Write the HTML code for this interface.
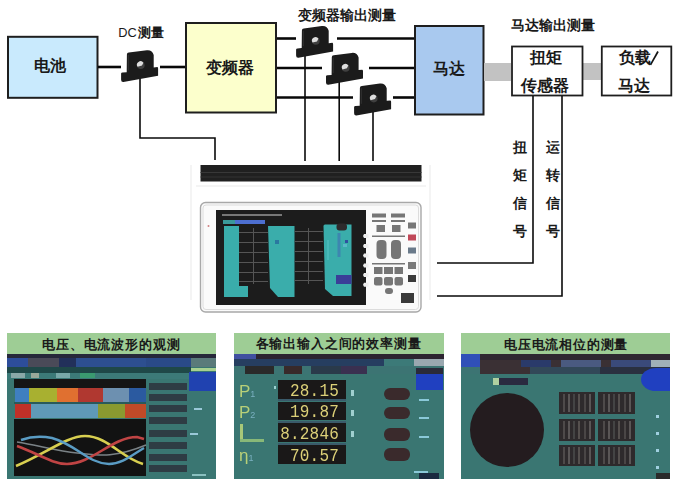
<!DOCTYPE html>
<html><head><meta charset="utf-8">
<style>
html,body{margin:0;padding:0;background:#fff;}
body{width:676px;height:481px;position:relative;overflow:hidden;font-family:"Liberation Sans",sans-serif;color:#1a1a1a;}
.t{position:absolute;white-space:nowrap;font-weight:bold;line-height:1;}
svg{position:absolute;left:0;top:0;}
.blr{position:absolute;left:0;top:0;width:100%;height:146px;filter:blur(0.6px);}
.pn{position:absolute;top:333px;width:209px;height:146px;background:#3a7672;overflow:hidden;}
.dg{position:absolute;width:61px;text-align:right;font-family:"Liberation Mono",monospace;font-size:16px;line-height:1;color:#dcd078;font-weight:normal;letter-spacing:0.2px;transform:scaleY(1.15);}
.lb{position:absolute;font-family:"Liberation Sans",sans-serif;font-size:17px;line-height:1;color:#b8d078;font-weight:normal;}
.lb sub{font-size:9px;vertical-align:baseline;color:#7ab0c0;}

</style></head><body>
<svg width="676" height="481" viewBox="0 0 676 481">
<defs>
<g id="sensor">
  <path d="M-13.9,-10.8 Q-13.9,-12.6 -12,-12.8 L6,-15.2 Q11.5,-15.8 12.9,-10.5 L12.9,2 L16.6,1.6 Q17.3,1.8 17.3,3 L17.3,10.4 L-17.4,16.6 Q-19.7,16.8 -19.7,14.4 L-19.7,8.2 Q-19.6,7.2 -18.3,7.2 L-14.1,6.9 Z" fill="#1b1b1b"/>
  <path d="M-12.5,-10.5 L-12.5,5" stroke="#333" stroke-width="1" fill="none"/>
  <circle cx="0" cy="-0.2" r="3.8" fill="#404040"/>
  <path d="M-3.2,1.4 A3.4,3.4 0 0 1 2.6,-2.6 L1.2,0.2 Z" fill="#dedede"/>
</g>
</defs>
<!-- boxes -->
<rect x="8" y="36.8" width="89.5" height="61" fill="#c9eafd" stroke="#1e1e1e" stroke-width="2"/>
<rect x="186" y="23" width="90" height="89.5" fill="#fcffcc" stroke="#1e1e1e" stroke-width="2"/>
<rect x="415" y="26" width="68.5" height="88.5" fill="#a9c9ef" stroke="#1e1e1e" stroke-width="2"/>
<rect x="484" y="63" width="27" height="18" fill="#c2c2c2"/>
<rect x="583" y="63" width="18" height="17" fill="#c2c2c2"/>
<rect x="512" y="46.5" width="70.5" height="49" fill="#fff" stroke="#1e1e1e" stroke-width="1.8"/>
<rect x="601.8" y="46.5" width="69.5" height="49" fill="#fff" stroke="#1e1e1e" stroke-width="1.8"/>
<!-- lines -->
<g stroke="#080808" stroke-width="2.6" fill="none">
  <line x1="98" y1="67" x2="121" y2="67"/>
  <line x1="160" y1="67" x2="185" y2="67"/>
  <line x1="277" y1="38.5" x2="296" y2="38.5"/>
  <line x1="337" y1="38.5" x2="414" y2="38.5"/>
  <line x1="277" y1="68" x2="322" y2="68"/>
  <line x1="369" y1="68" x2="414" y2="68"/>
  <line x1="277" y1="97.5" x2="353" y2="97.5"/>
  <line x1="393" y1="97.5" x2="414" y2="97.5"/>
</g>
<g stroke="#0a0a0a" stroke-width="1.6" fill="none">
  <polyline points="140,76 140,138 215,138 215,160"/>
  <line x1="305" y1="56" x2="305" y2="161"/>
  <line x1="339.2" y1="80" x2="339.2" y2="161"/>
  <line x1="373" y1="108" x2="373" y2="161"/>
  <polyline points="533,96 533,263 437,263"/>
  <polyline points="562,96 562,296 437,296"/>
</g>
<use href="#sensor" x="140.8" y="65.4"/>
<use href="#sensor" x="315.8" y="41.2"/>
<use href="#sensor" x="345.7" y="68.1"/>
<use href="#sensor" x="373.8" y="98.8"/>
<line x1="658" y1="51.5" x2="650.5" y2="64.8" stroke="#151515" stroke-width="1.7"/>
<!-- instrument -->
<g stroke="#f0f0f0" stroke-width="1.5" fill="none">
  <line x1="191" y1="165" x2="191" y2="300"/>
  <line x1="430" y1="165" x2="430" y2="300"/>
  <line x1="196" y1="186" x2="426" y2="186"/>
</g>
<rect x="200.5" y="165" width="221" height="16.5" fill="#202020"/>
<rect x="200.5" y="172" width="221" height="1" fill="#383838"/>
<rect x="200.5" y="176.5" width="221" height="1" fill="#333"/>
<rect x="200.5" y="202.5" width="220.5" height="109.5" rx="5" fill="#fafafa" stroke="#a8a8a8" stroke-width="1.4"/>
<rect x="203" y="205" width="215.5" height="104.5" rx="3" fill="none" stroke="#dcdcdc" stroke-width="1"/>
<circle cx="208.5" cy="226" r="1" fill="#d08080"/>
<rect x="216" y="210" width="150" height="95" fill="#1c1c1c"/>
<rect x="222" y="214" width="60" height="2" fill="#777"/>
<rect x="223" y="220" width="42" height="4" fill="#4d6fd0"/>
<rect x="223" y="220" width="12" height="4" fill="#3a9a9a"/>
<!-- teal cols -->
<path d="M224,226 L239,226 L239,286 L248,286 L248,297 L224,297 Z" fill="#3aadab"/>
<path d="M268,226 L294.5,226 L294.5,297 L278,297 L270,288 Z" fill="#3aadab"/>
<path d="M323.5,226 Q323.5,224.5 325,224.5 L351.5,224.5 L351.5,296 L333,296 L325,289 Z" fill="#3aadab"/>
<rect x="337.5" y="233" width="3" height="24" fill="#3d86b0"/>
<rect x="343" y="244" width="4" height="3" fill="#5ab8c8"/>
<rect x="327" y="240" width="2" height="20" fill="#48b8b8"/>
<rect x="336" y="275" width="15.5" height="9" fill="#3a3e98"/>
<rect x="336.5" y="223.5" width="10.5" height="7" rx="3" fill="#2e2a2c"/>
<rect x="345" y="240" width="3" height="3" fill="#3050a0"/>
<rect x="275" y="240" width="4" height="4" fill="#2a78a0"/>
<!-- grids -->
<g fill="#555">
  <rect x="239" y="232" width="29" height="1"/><rect x="239" y="242" width="29" height="1"/>
  <rect x="239" y="252" width="29" height="1"/><rect x="239" y="262" width="29" height="1"/>
  <rect x="239" y="272" width="29" height="1"/><rect x="239" y="281" width="29" height="1"/>
  <rect x="294.5" y="231" width="28.5" height="1"/><rect x="294.5" y="241" width="28.5" height="1"/>
  <rect x="294.5" y="251" width="28.5" height="1"/><rect x="294.5" y="261" width="28.5" height="1"/>
  <rect x="294.5" y="271" width="28.5" height="1"/><rect x="294.5" y="280" width="28.5" height="1"/>
  <rect x="253" y="228" width="1" height="56"/><rect x="308" y="228" width="1" height="56"/>
</g>
<!-- soft keys -->
<g fill="#eeeeee">
  <path d="M364,234 L368.5,234 L368.5,238 L364,238 L363,236 Z"/>
  <path d="M364,244 L368.5,244 L368.5,248 L364,248 L363,246 Z"/>
  <path d="M364,253.6 L368.5,253.6 L368.5,257.6 L364,257.6 L363,255.6 Z"/>
  <path d="M364,263.4 L368.5,263.4 L368.5,267.4 L364,267.4 L363,265.4 Z"/>
  <path d="M364,273 L368.5,273 L368.5,277 L364,277 L363,275 Z"/>
  <path d="M364,282.8 L368.5,282.8 L368.5,286.8 L364,286.8 L363,284.8 Z"/>
</g>
<!-- buttons -->
<g fill="#767676">
  <rect x="372" y="213.5" width="14" height="4"/><rect x="391" y="213.5" width="14" height="4"/>
  <rect x="372" y="220" width="14" height="2"/><rect x="391" y="220" width="14" height="2"/>
  <rect x="376.5" y="225" width="8.5" height="7"/><rect x="392" y="225" width="8.5" height="7"/>
  <rect x="372" y="235.5" width="33" height="1.5"/>
  <rect x="376.5" y="240" width="10" height="19" rx="4"/><rect x="391" y="240" width="10" height="19" rx="4"/>
  <rect x="372" y="263" width="33" height="1.5"/>
  <rect x="374" y="267" width="8.5" height="7"/><rect x="384" y="267" width="9" height="7"/><rect x="394.5" y="267" width="8.5" height="7"/>
  <rect x="374" y="277" width="8.5" height="8.5" rx="2"/><rect x="384" y="277" width="9" height="8.5" rx="2"/><rect x="394.5" y="277" width="8.5" height="8.5" rx="2"/>
  <rect x="385" y="288" width="8" height="6" rx="3"/>
  <rect x="408" y="222.5" width="8" height="6"/>
  <rect x="408" y="247.5" width="8" height="6" fill="#6a7a8a"/>
  <rect x="408" y="262" width="8" height="7" fill="#7a7a7a"/>
  <rect x="408" y="275" width="8" height="7" fill="#3a3a3a"/>
  <rect x="401" y="293" width="13" height="10" fill="#3a3a3a"/>
</g>
<rect x="408" y="234.5" width="8" height="6" fill="#c04858"/>
</svg>

<div class="t" style="left:34px;top:58px;font-size:16px;">电池</div>
<div class="t" style="left:118.3px;top:27.3px;font-size:12.8px;font-weight:normal;">DC</div><div class="t" style="left:137.5px;top:25.5px;font-size:13px;">测量</div>
<div class="t" style="left:206px;top:60px;font-size:16px;">变频器</div>
<div class="t" style="left:298px;top:9px;font-size:13.7px;">变频器输出测量</div>
<div class="t" style="left:433px;top:61px;font-size:16px;">马达</div>
<div class="t" style="left:511px;top:18.5px;font-size:13.7px;">马达输出测量</div>
<div class="t" style="left:530px;top:50px;font-size:16px;">扭矩</div>
<div class="t" style="left:521px;top:78px;font-size:16px;">传感器</div>
<div class="t" style="left:618.5px;top:49.5px;font-size:16px;">负载</div>
<div class="t" style="left:618px;top:78px;font-size:16px;">马达</div>

<div class="t" style="left:513px;top:133px;font-size:14px;line-height:28px;white-space:normal;width:15px;">扭<br>矩<br>信<br>号</div>
<div class="t" style="left:546px;top:133px;font-size:14px;line-height:28px;white-space:normal;width:15px;">运<br>转<br>信<br>号</div>

<!-- panel 1 -->
<div class="pn" style="left:7px;">
<div style="position:absolute;left:0px;top:0px;width:209px;height:21px;background:#9ecd95;"></div>
<div class="t" style="left:35px;top:5px;font-size:13px;letter-spacing:0.85px;">电压、电流波形的观测</div>
<div class="blr">
<div style="position:absolute;left:0px;top:21px;width:209px;height:4px;background:#26283a;"></div>
<div style="position:absolute;left:0px;top:25px;width:21px;height:9px;background:#2d4d9a;"></div>
<div style="position:absolute;left:21px;top:25px;width:31px;height:9px;background:#4a4a58;"></div>
<div style="position:absolute;left:52px;top:25px;width:17px;height:9px;background:#22305a;"></div>
<div style="position:absolute;left:69px;top:25px;width:70px;height:9px;background:#2d4f90;"></div>
<div style="position:absolute;left:139px;top:25px;width:45px;height:9px;background:#2a4a88;"></div>
<div style="position:absolute;left:184px;top:25px;width:25px;height:9px;background:#5a7a7a;"></div>
<div style="position:absolute;left:0px;top:34px;width:184px;height:6px;background:#1f4848;"></div>
<div style="position:absolute;left:184px;top:35px;width:25px;height:3px;background:#a8d090;"></div>
<div style="position:absolute;left:0px;top:40px;width:209px;height:6px;background:#3c7a78;"></div>
<div style="position:absolute;left:4px;top:40px;width:14px;height:5px;background:#8aa8a8;"></div>
<div style="position:absolute;left:24px;top:40px;width:8px;height:5px;background:#9aa89a;"></div>
<div style="position:absolute;left:49px;top:40px;width:14px;height:5px;background:#78a8a8;"></div>
<div style="position:absolute;left:73px;top:40px;width:15px;height:5px;background:#3a9a70;"></div>
<div style="position:absolute;left:7px;top:46px;width:132px;height:9px;background:#151515;"></div>
<div style="position:absolute;left:182px;top:39px;width:27px;height:19px;background:#2042b0;"></div>
<div style="position:absolute;left:8px;top:55px;width:14px;height:14px;background:#3f7fc0;"></div>
<div style="position:absolute;left:22px;top:55px;width:28px;height:14px;background:#a8b030;"></div>
<div style="position:absolute;left:50px;top:55px;width:21px;height:14px;background:#e07030;"></div>
<div style="position:absolute;left:71px;top:55px;width:25px;height:14px;background:#b03830;"></div>
<div style="position:absolute;left:96px;top:55px;width:26px;height:14px;background:#6d90b0;"></div>
<div style="position:absolute;left:122px;top:55px;width:17px;height:14px;background:#2b5aa0;"></div>
<div style="position:absolute;left:7px;top:69px;width:132px;height:2px;background:#2a5a5a;"></div>
<div style="position:absolute;left:8px;top:71px;width:16px;height:14px;background:#c03028;"></div>
<div style="position:absolute;left:24px;top:71px;width:67px;height:14px;background:#5f9ab8;"></div>
<div style="position:absolute;left:91px;top:71px;width:27px;height:14px;background:#8a9a30;"></div>
<div style="position:absolute;left:118px;top:71px;width:21px;height:14px;background:#c04a28;"></div>
<div style="position:absolute;left:7px;top:86px;width:132px;height:57px;background:#121212;"></div>
<svg width="209" height="146" style="position:absolute;left:0;top:0;">
    <path d="M10,109 C30,112 50,118 70,120 C90,122 105,126 139,112" stroke="#7a8286" stroke-width="1.6" fill="none"/>
    <path d="M9,133 C40,120 60,103 78,103 C100,103 115,125 136,131" stroke="#d8cf50" stroke-width="2.6" fill="none"/>
    <path d="M10,113 C30,120 45,131 60,131 C85,131 105,104 130,104 L137,106" stroke="#c04444" stroke-width="2.6" fill="none"/>
    <path d="M14,107 C25,103 35,103 45,105 C70,112 80,130 102,131 C115,131 125,122 137,115" stroke="#5a9cc4" stroke-width="2.4" fill="none"/>
</svg>
<div style="position:absolute;left:142px;top:50px;width:38px;height:7px;background:#2e3c44;"></div>
<div style="position:absolute;left:142px;top:61px;width:38px;height:7px;background:#2e3c44;"></div>
<div style="position:absolute;left:142px;top:72px;width:38px;height:7px;background:#2e3c44;"></div>
<div style="position:absolute;left:142px;top:84px;width:38px;height:7px;background:#2e3c44;"></div>
<div style="position:absolute;left:142px;top:97px;width:38px;height:7px;background:#2e3c44;"></div>
<div style="position:absolute;left:142px;top:109px;width:38px;height:7px;background:#2e3c44;"></div>
<div style="position:absolute;left:142px;top:121px;width:38px;height:7px;background:#2e3c44;"></div>
<div style="position:absolute;left:142px;top:132px;width:38px;height:7px;background:#2e3c44;"></div>
<div style="position:absolute;left:187px;top:75px;width:8px;height:2px;background:#9ac8d8;"></div>
<div style="position:absolute;left:183px;top:100px;width:8px;height:2px;background:#9ac8d8;"></div>
<div style="position:absolute;left:185px;top:141px;width:14px;height:2px;background:#8ac0c0;"></div>
</div>
</div>
<!-- panel 2 -->
<div class="pn" style="left:234px;width:210px;">
<div style="position:absolute;left:0px;top:0px;width:210px;height:21px;background:#9ecd95;"></div>
<div class="t" style="left:21.5px;top:4px;font-size:13px;letter-spacing:0.85px;">各输出输入之间的效率测量</div>
<div class="blr">
<div style="position:absolute;left:0px;top:21px;width:210px;height:5px;background:#2c2430;"></div>
<div style="position:absolute;left:0px;top:21px;width:22px;height:5px;background:#4050a0;"></div>
<div style="position:absolute;left:0px;top:26px;width:210px;height:7px;background:#263e60;"></div>
<div style="position:absolute;left:150px;top:26px;width:30px;height:7px;background:#3c7a78;"></div>
<div style="position:absolute;left:180px;top:26px;width:30px;height:7px;background:#9aa8b0;"></div>
<div style="position:absolute;left:0px;top:33px;width:210px;height:8px;background:#3c7473;"></div>
<div style="position:absolute;left:11px;top:33px;width:29px;height:8px;background:#2a2a2a;"></div>
<div style="position:absolute;left:50px;top:33px;width:18px;height:8px;background:#382a2a;"></div>
<div style="position:absolute;left:77px;top:33px;width:30px;height:8px;background:#2a3a4a;"></div>
<div style="position:absolute;left:107px;top:33px;width:26px;height:8px;background:#3a3050;"></div>
<div style="position:absolute;left:182px;top:35px;width:27px;height:6px;background:#2a2a3a;"></div>
<div style="position:absolute;left:182px;top:41px;width:27px;height:16px;background:#2040c0;"></div>
<div style="position:absolute;left:44px;top:47px;width:68px;height:19px;background:#1a1818;"></div>
<div style="position:absolute;left:44px;top:69px;width:68px;height:18px;background:#1a1818;"></div>
<div style="position:absolute;left:44px;top:90px;width:68px;height:19px;background:#1a1818;"></div>
<div style="position:absolute;left:44px;top:112px;width:68px;height:19px;background:#1a1818;"></div>
<div style="position:absolute;left:44px;top:66px;width:68px;height:2px;background:#3a5a6a;"></div>
<div style="position:absolute;left:44px;top:88px;width:68px;height:2px;background:#3a5a6a;"></div>
<div style="position:absolute;left:44px;top:110px;width:68px;height:2px;background:#3a5a6a;"></div>
<div class="dg" style="left:44px;top:49.5px;">28.15</div>
<div class="dg" style="left:44px;top:71px;">19.87</div>
<div class="dg" style="left:44px;top:92.5px;">8.2846</div>
<div class="dg" style="left:44px;top:115px;">70.57</div>
<div class="lb" style="left:5px;top:50px;">P<sub>1</sub></div>
<div class="lb" style="left:5px;top:71px;">P<sub>2</sub></div>
<div style="position:absolute;left:6px;top:91px;width:3px;height:18px;background:#a8c878;"></div>
<div style="position:absolute;left:6px;top:106px;width:24px;height:3px;background:#88b878;"></div>
<div class="lb" style="left:5px;top:114px;">η<sub>1</sub></div>
<div style="position:absolute;left:40px;top:53px;width:2px;height:3px;background:#9ad0d0;"></div>
<div style="position:absolute;left:150px;top:55px;width:26px;height:12px;background:#3a2a2c;border-radius:6px;"></div>
<div style="position:absolute;left:150px;top:74px;width:26px;height:12px;background:#3a2a2c;border-radius:6px;"></div>
<div style="position:absolute;left:150px;top:95px;width:26px;height:13px;background:#3a2a2c;border-radius:6px;"></div>
<div style="position:absolute;left:150px;top:115px;width:26px;height:13px;background:#3a2a2c;border-radius:6px;"></div>
<div style="position:absolute;left:117px;top:57px;width:3px;height:6px;background:#a0d0d0;"></div>
<div style="position:absolute;left:117px;top:77px;width:3px;height:6px;background:#a0d0d0;"></div>
<div style="position:absolute;left:117px;top:98px;width:3px;height:6px;background:#a0d0d0;"></div>
<div style="position:absolute;left:185px;top:66px;width:10px;height:2px;background:#8ac8d8;"></div>
<div style="position:absolute;left:185px;top:84px;width:10px;height:2px;background:#8ac8d8;"></div>
<div style="position:absolute;left:185px;top:103px;width:10px;height:2px;background:#8ac8d8;"></div>
<div style="position:absolute;left:180px;top:138px;width:14px;height:2px;background:#8ac8d8;"></div>
<div style="position:absolute;left:185px;top:140px;width:20px;height:6px;background:#1a2a40;"></div>
</div>
</div>
<!-- panel 3 -->
<div class="pn" style="left:461px;">
<div style="position:absolute;left:0px;top:0px;width:209px;height:21px;background:#9ecd95;"></div>
<div class="t" style="left:43px;top:4.5px;font-size:13px;letter-spacing:0.8px;">电压电流相位的测量</div>
<div class="blr">
<div style="position:absolute;left:0px;top:21px;width:209px;height:20px;background:#3a3034;"></div>
<div style="position:absolute;left:0px;top:21px;width:19px;height:14px;background:#3050b8;"></div>
<div style="position:absolute;left:19px;top:21px;width:190px;height:6px;background:#2e2830;"></div>
<div style="position:absolute;left:60px;top:27px;width:30px;height:7px;background:#2a3a6a;"></div>
<div style="position:absolute;left:100px;top:27px;width:40px;height:7px;background:#4a5a80;"></div>
<div style="position:absolute;left:150px;top:27px;width:40px;height:7px;background:#3a4a7a;"></div>
<div style="position:absolute;left:190px;top:27px;width:19px;height:7px;background:#a0b0b8;"></div>
<div style="position:absolute;left:0px;top:34px;width:19px;height:7px;background:#3c7473;"></div>
<div style="position:absolute;left:19px;top:34px;width:50px;height:7px;background:#3a3034;"></div>
<div style="position:absolute;left:69px;top:34px;width:70px;height:7px;background:#324858;"></div>
<div style="position:absolute;left:139px;top:34px;width:70px;height:7px;background:#2a3040;"></div>
<div style="position:absolute;left:32px;top:45px;width:35px;height:7px;background:#2a2a40;"></div>
<div style="position:absolute;left:32px;top:45px;width:6px;height:7px;background:#b0d0a0;"></div>
<div style="position:absolute;left:180px;top:35px;width:30px;height:23px;background:#2040c0;border-radius:50% 0 0 50%;"></div>
<div style="position:absolute;left:9px;top:60px;width:74px;height:74px;background:#241c1f;border-radius:50%;"></div>
<div style="position:absolute;left:98px;top:59px;width:36px;height:22px;background:#2e2a2c;"></div>
<div style="position:absolute;left:98px;top:86px;width:36px;height:22px;background:#2e2a2c;"></div>
<div style="position:absolute;left:98px;top:112px;width:36px;height:21px;background:#2e2a2c;"></div>
<div style="position:absolute;left:137px;top:59px;width:37px;height:22px;background:#2e2a2c;"></div>
<div style="position:absolute;left:137px;top:86px;width:37px;height:22px;background:#2e2a2c;"></div>
<div style="position:absolute;left:137px;top:112px;width:37px;height:21px;background:#2e2a2c;"></div>
<div style="position:absolute;left:195px;top:82px;width:3px;height:3px;background:#a0d0e0;"></div>
<div style="position:absolute;left:195px;top:99px;width:3px;height:3px;background:#a0d0e0;"></div>
<div style="position:absolute;left:195px;top:116px;width:3px;height:3px;background:#a0d0e0;"></div>
<div style="position:absolute;left:195px;top:133px;width:3px;height:3px;background:#a0d0e0;"></div>
<div style="position:absolute;left:195px;top:140px;width:14px;height:6px;background:#2a2a2a;"></div>
<div style="position:absolute;left:102px;top:61px;width:1.5px;height:18px;background:#4e4a4a;"></div>
<div style="position:absolute;left:107px;top:61px;width:1.5px;height:18px;background:#5a5656;"></div>
<div style="position:absolute;left:112px;top:61px;width:1.5px;height:18px;background:#444;"></div>
<div style="position:absolute;left:117px;top:61px;width:1.5px;height:18px;background:#55504e;"></div>
<div style="position:absolute;left:123px;top:61px;width:1.5px;height:18px;background:#4a4646;"></div>
<div style="position:absolute;left:128px;top:61px;width:1.5px;height:18px;background:#5a5656;"></div>
<div style="position:absolute;left:102px;top:88px;width:1.5px;height:18px;background:#4e4a4a;"></div>
<div style="position:absolute;left:107px;top:88px;width:1.5px;height:18px;background:#5a5656;"></div>
<div style="position:absolute;left:112px;top:88px;width:1.5px;height:18px;background:#444;"></div>
<div style="position:absolute;left:117px;top:88px;width:1.5px;height:18px;background:#55504e;"></div>
<div style="position:absolute;left:123px;top:88px;width:1.5px;height:18px;background:#4a4646;"></div>
<div style="position:absolute;left:128px;top:88px;width:1.5px;height:18px;background:#5a5656;"></div>
<div style="position:absolute;left:102px;top:114px;width:1.5px;height:17px;background:#4e4a4a;"></div>
<div style="position:absolute;left:107px;top:114px;width:1.5px;height:17px;background:#5a5656;"></div>
<div style="position:absolute;left:112px;top:114px;width:1.5px;height:17px;background:#444;"></div>
<div style="position:absolute;left:117px;top:114px;width:1.5px;height:17px;background:#55504e;"></div>
<div style="position:absolute;left:123px;top:114px;width:1.5px;height:17px;background:#4a4646;"></div>
<div style="position:absolute;left:128px;top:114px;width:1.5px;height:17px;background:#5a5656;"></div>
<div style="position:absolute;left:142px;top:61px;width:1.5px;height:18px;background:#4e4a4a;"></div>
<div style="position:absolute;left:147px;top:61px;width:1.5px;height:18px;background:#5a5656;"></div>
<div style="position:absolute;left:152px;top:61px;width:1.5px;height:18px;background:#444;"></div>
<div style="position:absolute;left:157px;top:61px;width:1.5px;height:18px;background:#55504e;"></div>
<div style="position:absolute;left:163px;top:61px;width:1.5px;height:18px;background:#4a4646;"></div>
<div style="position:absolute;left:168px;top:61px;width:1.5px;height:18px;background:#5a5656;"></div>
<div style="position:absolute;left:142px;top:88px;width:1.5px;height:18px;background:#4e4a4a;"></div>
<div style="position:absolute;left:147px;top:88px;width:1.5px;height:18px;background:#5a5656;"></div>
<div style="position:absolute;left:152px;top:88px;width:1.5px;height:18px;background:#444;"></div>
<div style="position:absolute;left:157px;top:88px;width:1.5px;height:18px;background:#55504e;"></div>
<div style="position:absolute;left:163px;top:88px;width:1.5px;height:18px;background:#4a4646;"></div>
<div style="position:absolute;left:168px;top:88px;width:1.5px;height:18px;background:#5a5656;"></div>
<div style="position:absolute;left:142px;top:114px;width:1.5px;height:17px;background:#4e4a4a;"></div>
<div style="position:absolute;left:147px;top:114px;width:1.5px;height:17px;background:#5a5656;"></div>
<div style="position:absolute;left:152px;top:114px;width:1.5px;height:17px;background:#444;"></div>
<div style="position:absolute;left:157px;top:114px;width:1.5px;height:17px;background:#55504e;"></div>
<div style="position:absolute;left:163px;top:114px;width:1.5px;height:17px;background:#4a4646;"></div>
<div style="position:absolute;left:168px;top:114px;width:1.5px;height:17px;background:#5a5656;"></div>
</div>
</div>
</body></html>
